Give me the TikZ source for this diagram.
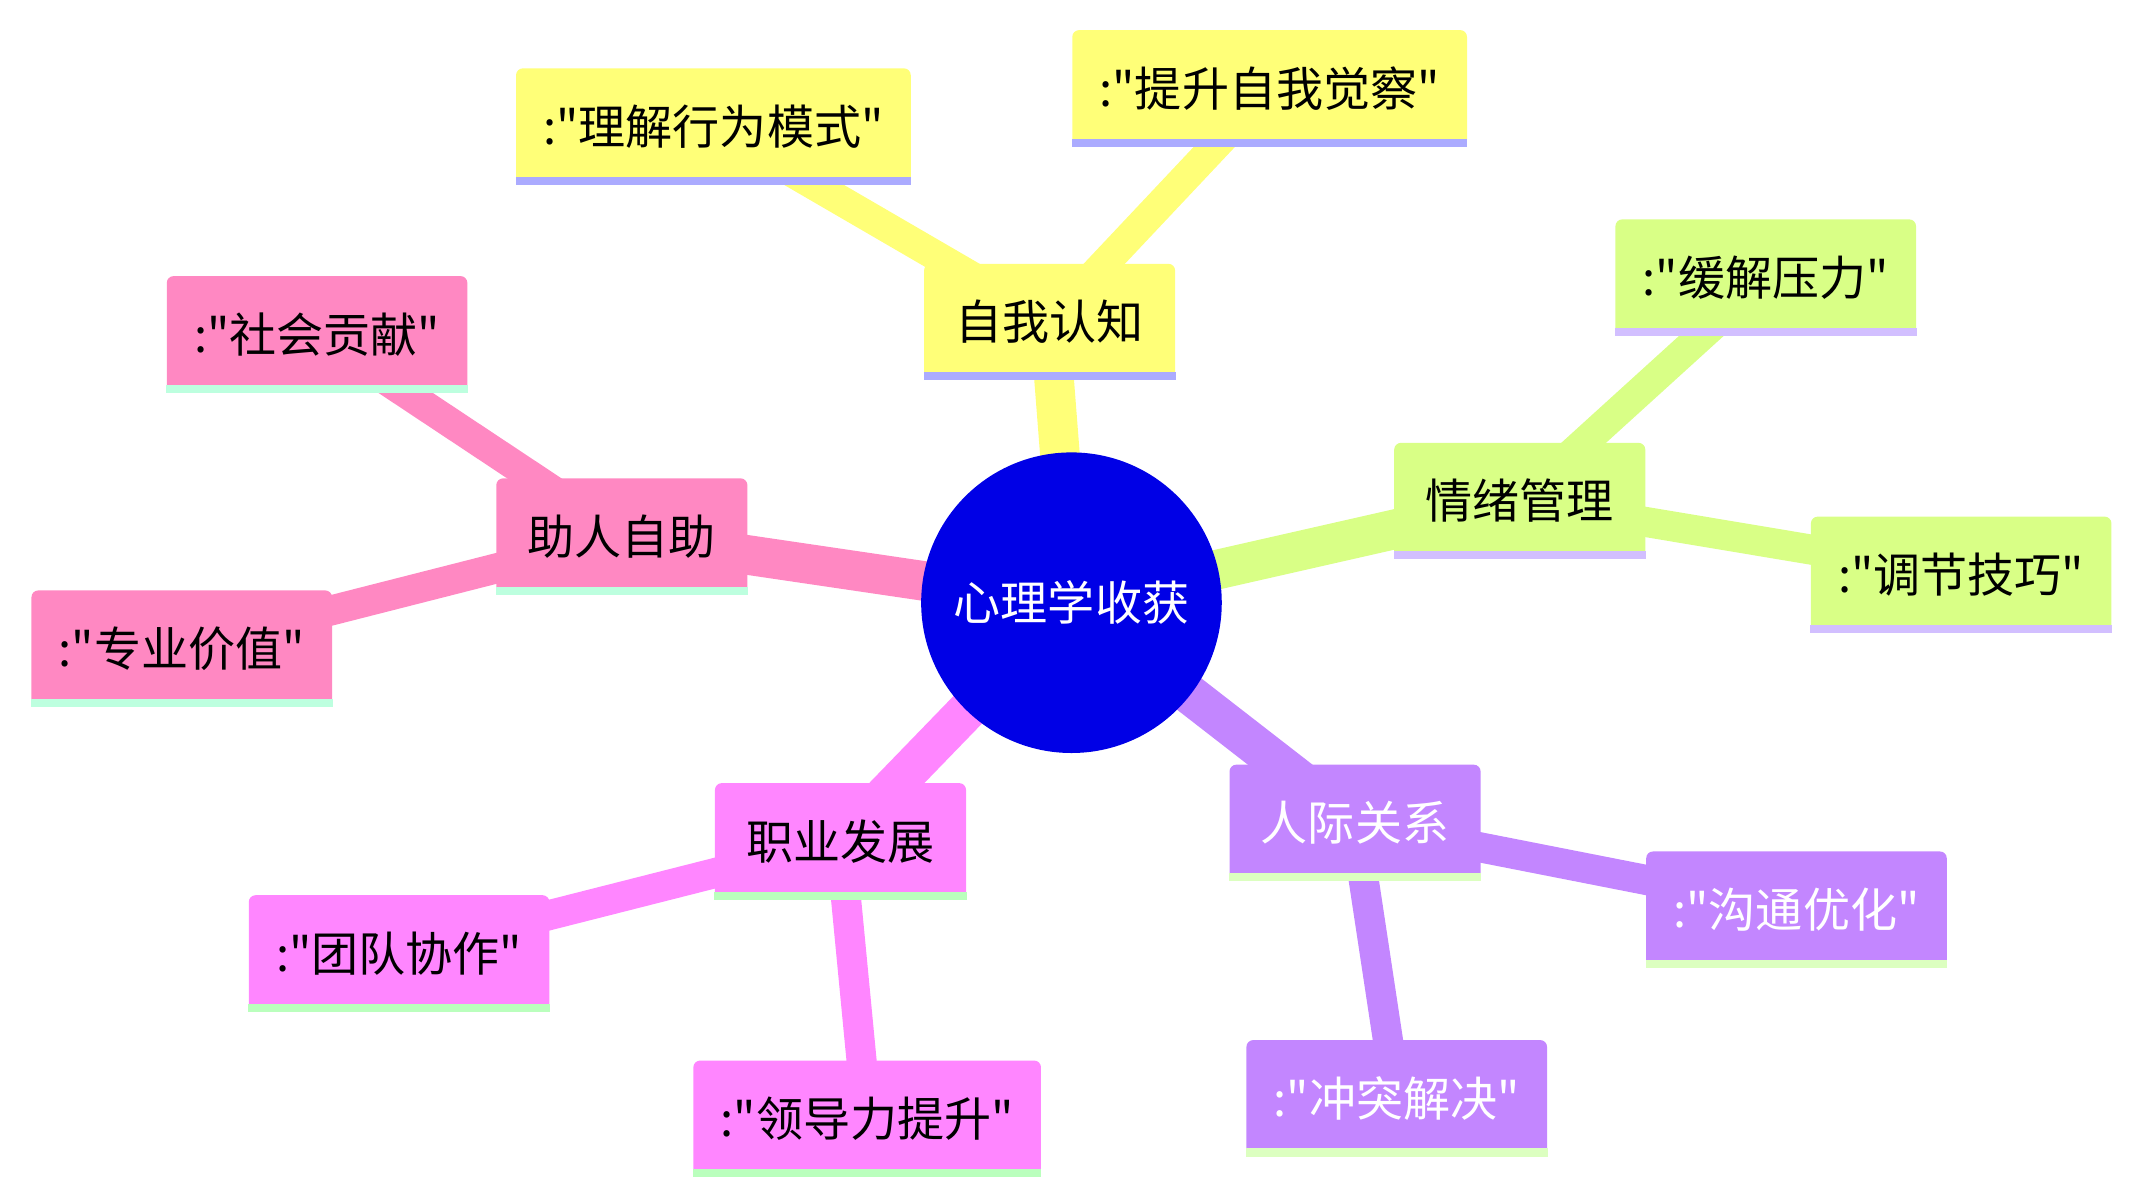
\documentclass[tikz,border=0pt]{standalone}
\usepackage{fontspec}
\newfontfamily\cjk{Noto Sans CJK SC}
\usepackage{tikz}
\usetikzlibrary{backgrounds}

\definecolor{rootblue}{HTML}{0000E6}
\definecolor{secyellow}{HTML}{FFFF78}
\definecolor{seclime}{HTML}{D9FF86}
\definecolor{secpurple}{HTML}{C386FF}
\definecolor{secmagenta}{HTML}{FF86FF}
\definecolor{secpink}{HTML}{FF88C2}
\definecolor{baryellow}{HTML}{ABABFF}
\definecolor{barlime}{HTML}{D2BFFF}
\definecolor{barpurple}{HTML}{DCFFC0}
\definecolor{barmagenta}{HTML}{BAFFBD}
\definecolor{barpink}{HTML}{BDFFDF}

\tikzset{
x=0.02cm, y=-0.02cm, % one unit is one pixel of the layout, y runs downwards
every node/.style={font=\cjk\fontsize{19.6}{24}\selectfont}, % text of all nodes
root/.style={circle, fill=rootblue, text=white, minimum size=4.4cm}, % the centre
topic/.style={rectangle, rounded corners=0.1cm, minimum height=1.7cm, inner xsep=0.46cm}, % boxes
leaf/.style={topic, inner xsep=0.40cm}, % quoted boxes
link/.style={line width=0.58cm}, % root to topic
sublink/.style={line width=0.44cm}, % topic to leaf
}

\begin{document}
\begin{tikzpicture}
            \useasboundingbox (0,0) rectangle (1560,876);

            \node[root] (root) at (784,441) {心理学收获};

            \node[topic, fill=secyellow] (self) at (768,235.5) {自我认知};
            \node[leaf, fill=secyellow] (pattern) at (522,92.5) {:"理解行为模式"};
            \node[leaf, fill=secyellow] (aware) at (929,64.5) {:"提升自我觉察"};

            \node[topic, fill=seclime] (emotion) at (1112,366.5) {情绪管理};
            \node[leaf, fill=seclime] (stress) at (1292,203) {:"缓解压力"};
            \node[leaf, fill=seclime] (skill) at (1435,420.5) {:"调节技巧"};

            \node[topic, fill=secpurple, text=white] (social) at (991.5,602) {人际关系};
            \node[leaf, fill=secpurple, text=white] (talk) at (1314.5,665.5) {:"沟通优化"};
            \node[leaf, fill=secpurple, text=white] (conflict) at (1022,803.5) {:"冲突解决"};

            \node[topic, fill=secmagenta] (career) at (615,615.5) {职业发展};
            \node[leaf, fill=secmagenta] (team) at (292,697.5) {:"团队协作"};
            \node[leaf, fill=secmagenta] (lead) at (634.5,818.5) {:"领导力提升"};

            \node[topic, fill=secpink] (help) at (455,392.5) {助人自助};
            \node[leaf, fill=secpink] (society) at (232,244.5) {:"社会贡献"};
            \node[leaf, fill=secpink] (value) at (133,474.5) {:"专业价值"};

            % underline bars
            \foreach \n/\c in {self/baryellow, pattern/baryellow, aware/baryellow,
                emotion/barlime, stress/barlime, skill/barlime,
                social/barpurple, talk/barpurple, conflict/barpurple,
                career/barmagenta, team/barmagenta, lead/barmagenta,
                help/barpink, society/barpink, value/barpink}
                \fill[\c] (\n.south west) rectangle ([yshift=0.12cm]\n.south east);

            \begin{pgfonlayer}{background}
            \draw[link, secyellow] (root.center) -- (self.center);
            \draw[sublink, secyellow] (self.center) -- (pattern.center);
            \draw[sublink, secyellow] (self.center) -- (aware.center);

            \draw[link, seclime] (root.center) -- (emotion.center);
            \draw[sublink, seclime] (emotion.center) -- (stress.center);
            \draw[sublink, seclime] (emotion.center) -- (skill.center);

            \draw[link, secpurple] (root.center) -- (social.center);
            \draw[sublink, secpurple] (social.center) -- (talk.center);
            \draw[sublink, secpurple] (social.center) -- (conflict.center);

            \draw[link, secmagenta] (root.center) -- (career.center);
            \draw[sublink, secmagenta] (career.center) -- (team.center);
            \draw[sublink, secmagenta] (career.center) -- (lead.center);

            \draw[link, secpink] (root.center) -- (help.center);
            \draw[sublink, secpink] (help.center) -- (society.center);
            \draw[sublink, secpink] (help.center) -- (value.center);
            \end{pgfonlayer}
        \end{tikzpicture}
\end{document}
